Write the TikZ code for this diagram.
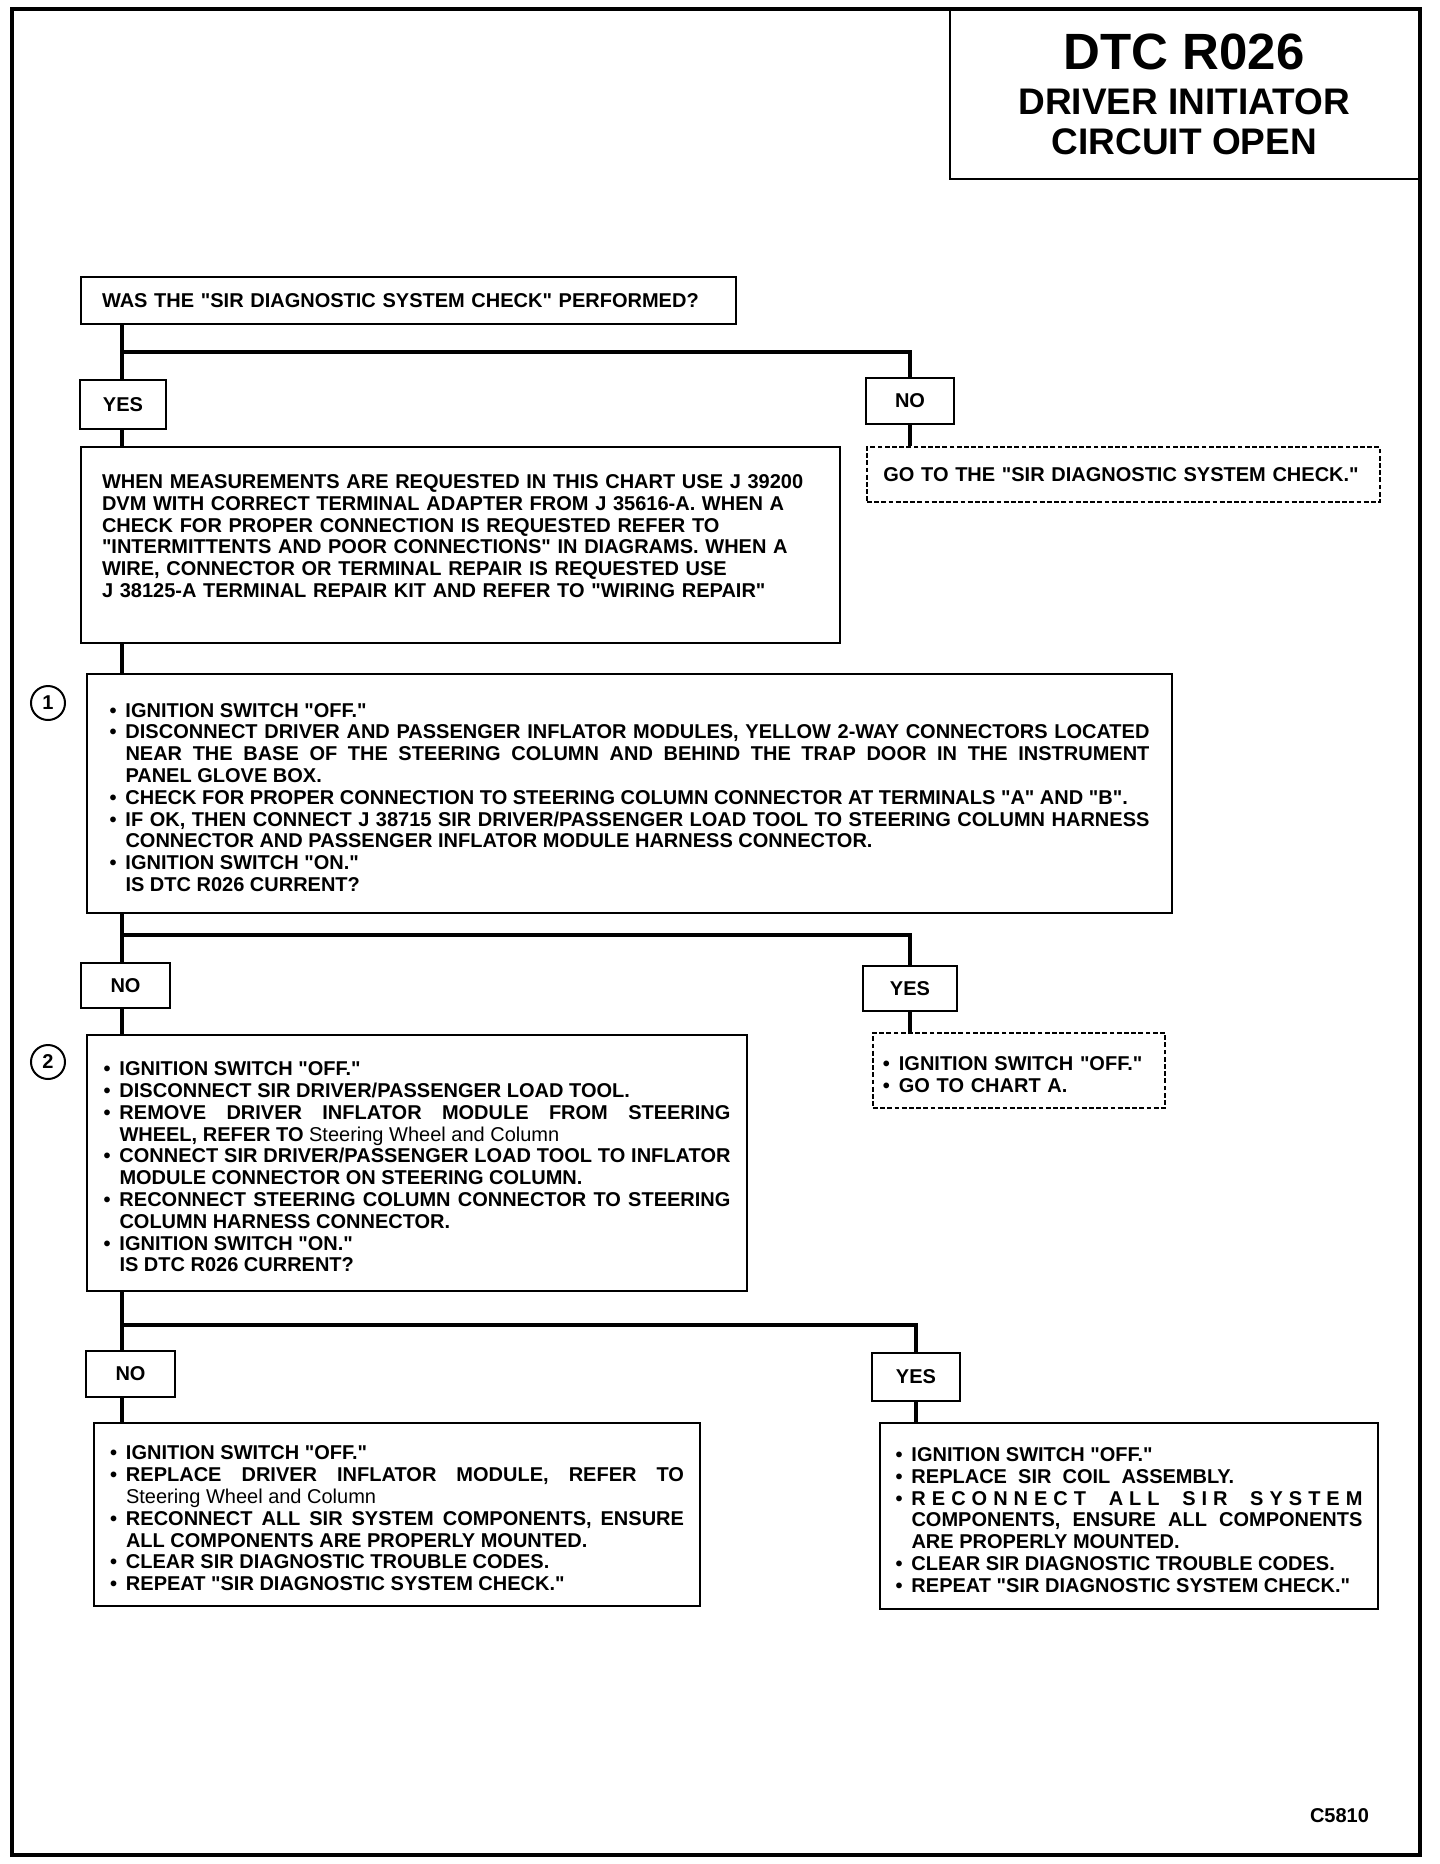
\documentclass[tikz,border=0pt]{standalone}
\usepackage{fontspec}
\setmainfont[Ligatures=TeXOff]{Liberation Sans}
\newcommand{\bodyfont}{\fontsize{10}{10.9}\selectfont\bfseries}
\newcommand{\bul}{\par\hangindent=8pt\hangafter=1\noindent\makebox[8pt][l]{\textbullet}}
\tolerance=10000
\hbadness=10000
\hfuzz=4pt

\begin{document}
\begin{tikzpicture}[x=0.5pt, y=-0.5pt,
  box/.style={rectangle, draw, line width=1pt, inner sep=0pt, font=\bodyfont, align=justify},
  dbox/.style={box, line width=0.9pt, dash pattern=on 2.4pt off 1.2pt},
  ans/.style={rectangle, draw, line width=1pt, inner sep=0pt, font=\bodyfont, align=center},
  num/.style={circle, draw, line width=1pt, minimum size=17pt, inner sep=0pt, font=\bodyfont},
  conn/.style={line width=2.3pt},
]
\useasboundingbox (0,0) rectangle (1440,1864);

% frame and title
\draw[line width=1.6pt] (12,9) rectangle (1420,1855);
\node[rectangle, draw, line width=1.2pt, anchor=north east, minimum width=234.5pt,
      minimum height=84.5pt, align=center, font=\fontsize{18.5}{20}\selectfont\bfseries]
  (title) at (1420,9)
  {{\fontsize{25.5}{26}\selectfont DTC R026}\\[2.5pt]DRIVER INITIATOR\\CIRCUIT OPEN};

% question and first branch
\node[box, align=left, anchor=north west, text width=306.5pt, minimum width=327.5pt,
      minimum height=23.5pt] (q0) at (80,276)
  {WAS THE "SIR DIAGNOSTIC SYSTEM CHECK" PERFORMED?};
\node[ans, minimum width=43pt, minimum height=24.5pt] (yes1) at (123,404.5) {YES};
\node[ans, minimum width=44pt, minimum height=23pt] (no1) at (910,401) {NO};
\node[dbox, align=left, anchor=north west, text width=240pt, minimum width=256.5pt,
      minimum height=27.5pt] (goto) at (866,446)
  {GO TO THE "SIR DIAGNOSTIC SYSTEM CHECK."};
\node[box, align=left, anchor=north west, text width=358.5pt, minimum width=379.5pt,
      minimum height=98pt] (info) at (80,446)
  {WHEN MEASUREMENTS ARE REQUESTED IN THIS CHART USE J 39200\\
   DVM WITH CORRECT TERMINAL ADAPTER FROM J 35616-A. WHEN A\\
   CHECK FOR PROPER CONNECTION IS REQUESTED REFER TO\\
   "INTERMITTENTS AND POOR CONNECTIONS" IN DIAGRAMS. WHEN A\\
   WIRE, CONNECTOR OR TERMINAL REPAIR IS REQUESTED USE\\
   J 38125-A TERMINAL REPAIR KIT AND REFER TO "WIRING REPAIR"\\[-2pt]\mbox{}};

% step 1
\node[num] (c1) at (48,703) {1};
\node[box, anchor=north west, text width=520pt, minimum width=542.5pt,
      minimum height=119.5pt] (step1) at (86,673)
  {\bul IGNITION SWITCH "OFF."
   \bul DISCONNECT DRIVER AND PASSENGER INFLATOR MODULES, YELLOW 2-WAY CONNECTORS LOCATED\linebreak
   NEAR THE BASE OF THE STEERING COLUMN AND BEHIND THE TRAP DOOR IN THE INSTRUMENT\linebreak
   PANEL GLOVE BOX.
   \bul CHECK FOR PROPER CONNECTION TO STEERING COLUMN CONNECTOR AT TERMINALS "A" AND "B".
   \bul IF OK, THEN CONNECT J 38715 SIR DRIVER/PASSENGER LOAD TOOL TO STEERING COLUMN HARNESS\linebreak
   CONNECTOR AND PASSENGER INFLATOR MODULE HARNESS CONNECTOR.
   \bul IGNITION SWITCH "ON."\newline
   IS DTC R026 CURRENT?\par};
\node[ans, minimum width=44.5pt, minimum height=22.5pt] (no2) at (125.5,985.5) {NO};
\node[ans, minimum width=47pt, minimum height=22.5pt] (yes2) at (910,988.5) {YES};
\node[dbox, align=left, anchor=north west, text width=136pt, minimum width=146pt,
      minimum height=37.5pt] (charta) at (872,1032)
  {\bul IGNITION SWITCH "OFF."
   \bul GO TO CHART A.\par};

% step 2
\node[num] (c2) at (48,1062) {2};
\node[box, anchor=north west, text width=313.5pt, minimum width=330pt,
      minimum height=128pt] (step2) at (86,1034)
  {\bul IGNITION SWITCH "OFF."
   \bul DISCONNECT SIR DRIVER/PASSENGER LOAD TOOL.
   \bul REMOVE DRIVER INFLATOR MODULE FROM STEERING\linebreak
   WHEEL, REFER TO {\mdseries Steering Wheel and Column}
   \bul CONNECT SIR DRIVER/PASSENGER LOAD TOOL TO INFLATOR\linebreak
   MODULE CONNECTOR ON STEERING COLUMN.
   \bul RECONNECT STEERING COLUMN CONNECTOR TO STEERING\linebreak
   COLUMN HARNESS CONNECTOR.
   \bul IGNITION SWITCH "ON."\newline
   IS DTC R026 CURRENT?\par};
\node[ans, minimum width=44.5pt, minimum height=23pt] (no3) at (130.5,1374) {NO};
\node[ans, minimum width=44pt, minimum height=24pt] (yes3) at (916,1377) {YES};

% repairs
\node[box, anchor=north west, text width=287pt, minimum width=303pt,
      minimum height=91.5pt] (fixno) at (93,1422)
  {\bul IGNITION SWITCH "OFF."
   \bul REPLACE DRIVER INFLATOR MODULE, REFER TO\linebreak
   {\mdseries Steering Wheel and Column}
   \bul RECONNECT ALL SIR SYSTEM COMPONENTS, ENSURE\linebreak
   ALL COMPONENTS ARE PROPERLY MOUNTED.
   \bul CLEAR SIR DIAGNOSTIC TROUBLE CODES.
   \bul REPEAT "SIR DIAGNOSTIC SYSTEM CHECK."\par};
\node[box, anchor=north west, text width=233.5pt, minimum width=249pt,
      minimum height=93pt] (fixyes) at (879,1422)
  {\bul IGNITION SWITCH "OFF."
   \bul REPLACE\ \ SIR\ \ COIL\ \ ASSEMBLY.
   \bul {\addfontfeature{LetterSpace=30}RECONNECT ALL SIR SYSTEM}\linebreak
   COMPONENTS, ENSURE ALL COMPONENTS\linebreak
   ARE PROPERLY MOUNTED.
   \bul CLEAR SIR DIAGNOSTIC TROUBLE CODES.
   \bul REPEAT "SIR DIAGNOSTIC SYSTEM CHECK."\par};

\node[font=\bodyfont, anchor=base east] (code) at (1376,1822) {C5810};

% connectors
\coordinate (j1) at (122,352);
\coordinate (j2) at (122,935);
\coordinate (j3) at (122,1325);
\draw[conn] (q0.south -| j1) -- (yes1.north -| j1);
\draw[conn] (j1) -| (no1.north);
\draw[conn] (yes1.south -| j1) -- (info.north -| j1);
\draw[conn] (no1.south) -- (goto.north -| no1.south);
\draw[conn] (info.south -| j1) -- (step1.north -| j1);
\draw[conn] (step1.south -| j2) -- (no2.north -| j2);
\draw[conn] (j2) -| (yes2.north);
\draw[conn] (no2.south -| j2) -- (step2.north -| j2);
\draw[conn] (yes2.south) -- (charta.north -| yes2.south);
\draw[conn] (step2.south -| j3) -- (no3.north -| j3);
\draw[conn] (j3) -| (yes3.north);
\draw[conn] (no3.south -| j3) -- (fixno.north -| j3);
\draw[conn] (yes3.south) -- (fixyes.north -| yes3.south);
\end{tikzpicture}
\end{document}
